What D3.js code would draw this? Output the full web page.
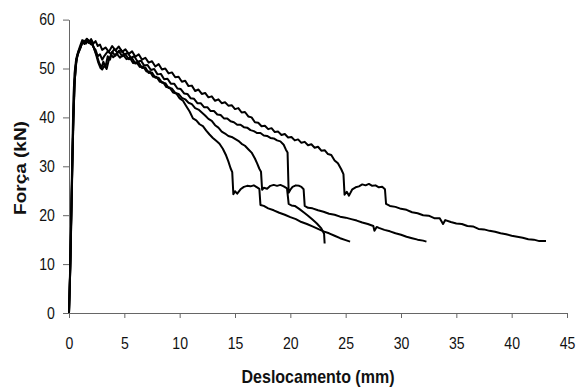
<!DOCTYPE html>
<html>
<head>
<meta charset="utf-8">
<script src="https://cdn.jsdelivr.net/npm/d3@7"></script>
<style>
	body { margin: 0; background: #fff; }
	svg { display: block; font-family: 'Liberation Sans', Arial, sans-serif; }
	.axis path, .axis line { stroke: #666; }
	.axis text { fill: #111; font-size: 16px; }
	.label { fill: #111; font-weight: bold; }
</style>
</head>
<body>
<div id="chart"></div>
<script>
// força x deslocamento, four specimens, [mm, kN]
const specimenA = [
	[0,0],[0.1,8],[0.2,20],[0.3,33],[0.4,44],[0.5,49],[0.65,52],[0.8,53.2],[1.0,54.6],[1.2,55.8],[1.4,55.2],[1.6,56.1],[1.8,55.4],[2.0,56],[2.2,55.1],[2.4,55.6],[2.6,54.6],[2.8,54.9],[3.0,53.8],[3.3,54.3],[3.6,53.4],[3.9,54.6],[4.2,53.7],[4.5,54.5],[4.8,53.4],[5.1,53.9],[5.4,53],[5.7,53.5],[6,52.4],[6.3,52.9],[6.6,51.8],[6.9,52.2],[7.2,51.2],[7.5,51.5],[7.8,50.4],[8.1,50.9],[8.4,49.8],[8.7,50],[9,49],[9.3,49.2],[9.6,48.2],[9.9,48.3],[10.2,47.3],[10.5,47.5],[10.8,46.4],[11.1,46.5],[11.4,45.4],[11.7,45.7],[12,44.8],[12.3,45],[12.6,44.1],[12.9,44.3],[13.2,43.4],[13.5,43.7],[13.8,42.9],[14.1,43.1],[14.4,42.4],[14.7,42.5],[15,41.7],[15.3,41.9],[15.6,41],[15.9,41.1],[16.2,40.2],[16.5,40],[16.8,39],[17.1,38.9],[17.4,38.2],[17.7,38.3],[18,37.6],[18.3,37.8],[18.6,37],[18.9,37.1],[19.2,36.4],[19.5,36.6],[19.8,35.9],[20.1,36],[20.4,35.3],[20.7,35.5],[21,34.8],[21.3,35],[21.6,34.3],[21.9,34.5],[22.2,33.8],[22.5,34],[22.8,33.2],[23.1,33.3],[23.4,32.5],[23.7,32.3],[24,31.2],[24.3,30.6],[24.6,29.4],[24.8,28.4],[24.9,24.2],[25.1,24.8],[25.3,24],[25.6,25.3],[25.9,25.7],[26.2,25.9],[26.5,26.3],[26.8,26.1],[27.1,26.4],[27.4,26],[27.7,26.1],[28,25.7],[28.3,25.8],[28.55,25.3],[28.65,22.3],[29,21.9],[29.5,21.7],[30,21.3],[30.5,21.1],[31,20.6],[31.5,20.4],[32,20],[32.5,19.9],[33,19.4],[33.5,19.4],[33.8,18.2],[34,19],[34.5,18.6],[35,18.3],[35.5,18.2],[36,17.8],[36.5,17.7],[37,17.2],[37.5,17.1],[38,16.8],[38.5,16.6],[39,16.3],[39.5,16.1],[40,15.8],[40.5,15.6],[41,15.4],[41.5,15.1],[42,15],[42.5,14.7],[43.1,14.7]
];
const specimenB = [
	[0,0],[0.12,10],[0.25,24],[0.38,38],[0.5,47],[0.65,51.5],[0.8,53],[1.0,54],[1.2,55.4],[1.4,55],[1.6,55.9],[1.8,55.2],[2.0,55.7],[2.2,54.4],[2.4,53.8],[2.6,52.5],[2.8,52.9],[3.0,51.8],[3.2,52.6],[3.5,53.5],[3.8,53],[4.1,54],[4.4,53.2],[4.7,53.8],[5,52.9],[5.3,53.2],[5.6,52.2],[5.9,52.5],[6.2,51.4],[6.5,51.6],[6.8,50.6],[7.1,50.7],[7.4,49.7],[7.7,49.9],[8,48.8],[8.3,48.9],[8.6,47.8],[8.9,47.9],[9.2,46.9],[9.5,46.9],[9.8,45.9],[10.1,45.8],[10.4,44.9],[10.7,44.8],[11,43.9],[11.3,43.8],[11.6,42.9],[11.9,42.9],[12.2,42.1],[12.5,42.1],[12.8,41.3],[13.1,41.3],[13.4,40.6],[13.7,40.5],[14,39.8],[14.3,39.8],[14.6,39.2],[14.9,39],[15.2,38.5],[15.5,38.5],[15.8,38],[16.1,37.9],[16.4,37.4],[16.7,37.2],[17,36.8],[17.3,36.8],[17.6,36.3],[17.9,36.2],[18.2,35.8],[18.5,35.7],[18.8,35.3],[19.1,35.1],[19.4,34.4],[19.6,33.4],[19.75,32.8],[19.85,24.6],[20.0,25.2],[20.2,25.8],[20.5,26.1],[20.8,26],[21.0,25.8],[21.2,25.3],[21.3,21.9],[21.6,21.5],[22,21.4],[22.5,21],[23,20.7],[23.5,20.3],[24,20.1],[24.5,19.7],[25,19.5],[25.5,19.2],[26,18.9],[26.5,18.5],[27,18.2],[27.5,17.8],[27.6,16.8],[27.8,17.6],[28,17.4],[28.5,17],[29,16.7],[29.5,16.3],[30,16],[30.5,15.6],[31,15.3],[31.5,15],[32,14.8],[32.3,14.6]
];
const specimenC = [
	[0,0],[0.1,9],[0.22,22],[0.35,36],[0.48,46],[0.6,50.5],[0.75,52.5],[0.95,53.8],[1.15,55],[1.35,55.7],[1.55,55.1],[1.75,55.8],[1.95,55],[2.15,54.8],[2.35,53.6],[2.55,52.4],[2.75,51],[2.95,50.2],[3.1,51.4],[3.3,50.3],[3.5,52.5],[3.7,51.8],[3.9,53.4],[4.2,52.6],[4.5,53.6],[4.8,52.5],[5.1,52.9],[5.4,51.9],[5.7,52.1],[6,51],[6.3,51.2],[6.6,50.1],[6.9,50.2],[7.2,49.1],[7.5,49.2],[7.8,48.1],[8.1,48.1],[8.4,47.1],[8.7,47],[9,46],[9.3,45.9],[9.6,45],[9.9,44.8],[10.2,44],[10.5,43.7],[10.8,43],[11.1,42.7],[11.4,41.9],[11.7,41.6],[12,41],[12.3,40.4],[12.6,39.7],[12.9,39.3],[13.2,38.4],[13.5,37.9],[13.8,37.1],[14.1,36.7],[14.4,36.2],[14.7,36],[15,35.6],[15.3,35.2],[15.6,34.6],[15.9,34.2],[16.2,33.5],[16.5,32.8],[16.8,31.6],[17.0,30.6],[17.2,29.5],[17.35,28.9],[17.45,25.2],[17.6,25.6],[17.9,25.4],[18.2,26],[18.5,26.2],[18.8,26],[19.1,26.2],[19.4,25.9],[19.7,25.5],[19.85,22.3],[20.1,22],[20.4,21.9],[20.8,21.3],[21.2,20.6],[21.6,19.9],[22,19.1],[22.4,18.3],[22.8,17.3],[23.05,16.2],[23.1,14.2]
];
const specimenD = [
	[0,0],[0.14,11],[0.27,27],[0.4,40],[0.52,47.5],[0.68,51.8],[0.85,53.5],[1.05,54.4],[1.25,55.6],[1.45,55.2],[1.65,56],[1.85,55.3],[2.05,55.5],[2.25,54.2],[2.45,52.8],[2.65,51.2],[2.85,50.1],[3.0,49.8],[3.2,50.6],[3.4,49.9],[3.6,51.8],[3.8,52.8],[4.0,52.3],[4.3,53.1],[4.6,52.2],[4.9,52.8],[5.2,51.9],[5.5,52.2],[5.8,51.1],[6.1,51.3],[6.4,50.3],[6.7,50.4],[7,49.4],[7.3,49.4],[7.6,48.3],[7.9,48.3],[8.2,47.3],[8.5,47.2],[8.8,46.2],[9.1,46.1],[9.4,45.1],[9.7,44.9],[10,43.9],[10.3,43.4],[10.6,42.3],[10.9,41.2],[11.2,39.8],[11.5,39.4],[11.8,38.6],[12.1,38.2],[12.4,37.3],[12.7,36.5],[13,35.8],[13.3,35.2],[13.6,34.6],[13.9,33.6],[14.2,32.2],[14.4,31],[14.6,29.6],[14.75,28.8],[14.85,24.3],[15.0,24.9],[15.2,24.4],[15.5,25.3],[15.8,25.8],[16.1,26],[16.4,25.9],[16.7,26.1],[17.0,25.7],[17.2,25.4],[17.3,22.1],[17.6,21.9],[18,21.4],[18.5,21],[19,20.5],[19.5,20.1],[20,19.6],[20.5,19.2],[21,18.6],[21.5,18.2],[22,17.7],[22.5,17.2],[23,16.7],[23.5,16.3],[24,15.8],[24.5,15.3],[25,14.9],[25.4,14.6]
];
const specimens = [specimenA, specimenB, specimenC, specimenD];

const xTicks = [0, 5, 10, 15, 20, 25, 30, 35, 40, 45];
const yTicks = [0, 10, 20, 30, 40, 50, 60];
const xTitle = 'Deslocamento (mm)';
const yTitle = 'Força (kN)';

const width = 577;
const height = 388;
const margin = { top: 20, right: 10, bottom: 75, left: 69 };
const plotRight = 567;
const plotBottom = 313;

const xScale = d3.scaleLinear().domain([0, 45]).range([margin.left, plotRight]);
const yScale = d3.scaleLinear().domain([0, 60]).range([plotBottom, 19.6]);

const svg = d3.select('#chart').append('svg')
		.attr('width', width)
		.attr('height', height);

svg.append('g')
		.attr('class', 'x axis')
		.attr('transform', `translate(0, ${plotBottom})`)
		.call(d3.axisBottom(xScale).tickValues(xTicks).tickSize(5).tickSizeOuter(0).tickPadding(20))
		.call((g) => g.selectAll('text').attr('transform', 'scale(0.88,1)'));

svg.append('g')
		.attr('class', 'y axis')
		.attr('transform', `translate(${margin.left}, 0)`)
		.call(d3.axisLeft(yScale).tickValues(yTicks).tickSize(6).tickSizeOuter(0).tickPadding(10))
		.call((g) => g.selectAll('text').attr('transform', 'scale(0.88,1)'));

svg.selectAll('.axis text').style('font-family', "'Liberation Sans', Arial, sans-serif");

const line = d3.line()
		.x((d) => xScale(d[0]))
		.y((d) => yScale(d[1]));

svg.append('g')
	.selectAll('path')
	.data(specimens)
	.enter().append('path')
		.attr('d', line)
		.attr('fill', 'none')
		.attr('stroke', '#000')
		.attr('stroke-width', 2)
		.attr('stroke-linejoin', 'round');

svg.append('text')
		.attr('class', 'label')
		.attr('transform', `translate(${(margin.left + plotRight) / 2}, 383) scale(0.89,1)`)
		.attr('text-anchor', 'middle')
		.style('font-size', '18px')
		.text(xTitle);

svg.append('text')
		.attr('class', 'label')
		.attr('transform', 'translate(26, 168) scale(0.88,1) rotate(-90)')
		.attr('text-anchor', 'middle')
		.style('font-size', '19px')
		.text(yTitle);
</script>
</body>
</html>
